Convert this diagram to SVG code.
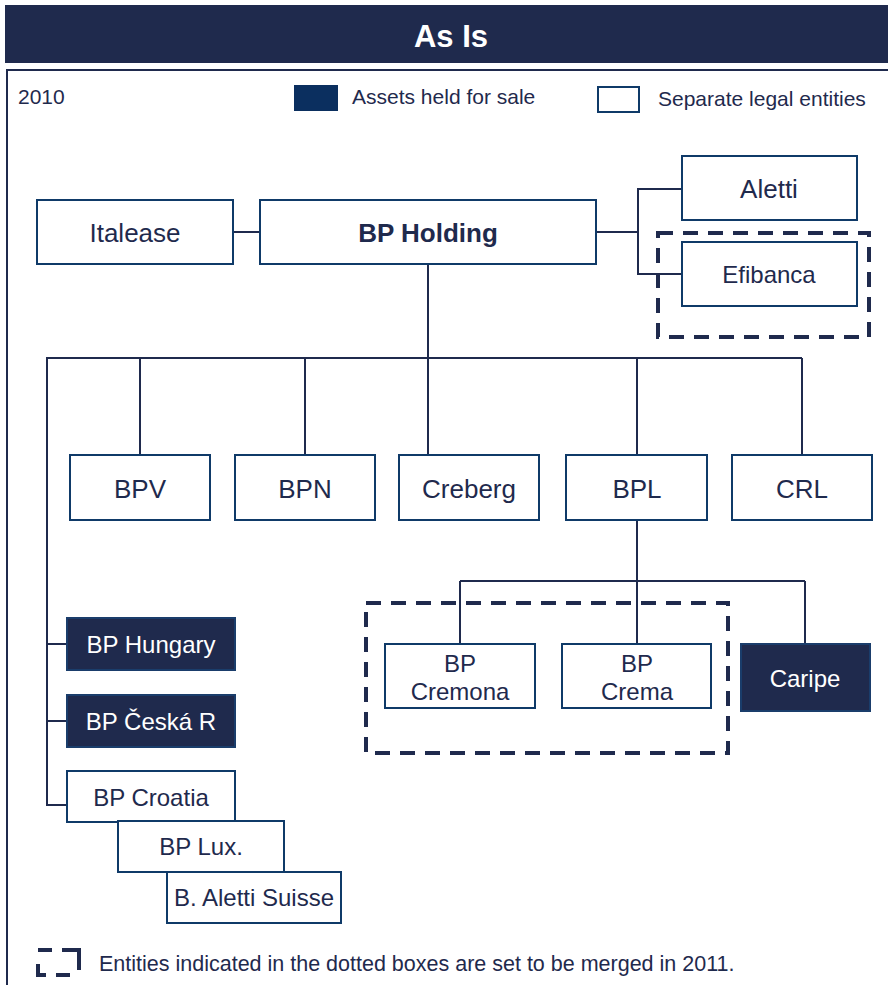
<svg xmlns="http://www.w3.org/2000/svg" width="888" height="985" viewBox="0 0 888 985">
<style>
text{font-family:"Liberation Sans",Arial,sans-serif;fill:#1f2a4d}
.box{fill:#ffffff;stroke:#0f3a68;stroke-width:2}
.dark{fill:#1f2a4d;stroke:#1a3d6b;stroke-width:2}
.lbl{font-size:24px;text-anchor:middle}
.big{font-size:26px;text-anchor:middle}
.wt{fill:#ffffff}
.ln{fill:none;stroke:#1f2a4d;stroke-width:2}
.dash{fill:none;stroke:#1f2a4d;stroke-width:4;stroke-dasharray:15 10}
</style>
<rect x="0" y="0" width="888" height="985" fill="#ffffff"/>
<g id="title">
<rect x="5" y="5" width="883" height="58" fill="#1f2a4d"/>
<text x="451" y="47" font-size="31" font-weight="bold" text-anchor="middle" class="wt" style="fill:#fff">As Is</text>
</g>
<g id="frame">
<line x1="6" y1="70" x2="888" y2="70" stroke="#1f2a4d" stroke-width="2"/>
<line x1="7" y1="69" x2="7" y2="985" stroke="#1f2a4d" stroke-width="2"/>
</g>
<g id="legend">
<text x="18" y="104" font-size="21">2010</text>
<rect x="294" y="85" width="44" height="26" fill="#0b2f5f"/>
<text x="352" y="104" font-size="21">Assets held for sale</text>
<rect x="598" y="87" width="41" height="25" class="box"/>
<text x="658" y="106" font-size="21">Separate legal entities</text>
</g>
<g id="connectors">
<line class="ln" x1="233" y1="232" x2="260" y2="232"/>
<polyline class="ln" points="596,232 637,232"/>
<polyline class="ln" points="682,189 638,189 638,274 682,274"/>
<line class="ln" x1="428" y1="264" x2="428" y2="358"/>
<line class="ln" x1="47" y1="358" x2="802" y2="358"/>
<line class="ln" x1="140" y1="358" x2="140" y2="455"/>
<line class="ln" x1="305" y1="358" x2="305" y2="455"/>
<line class="ln" x1="428" y1="358" x2="428" y2="455"/>
<line class="ln" x1="637" y1="358" x2="637" y2="455"/>
<line class="ln" x1="802" y1="358" x2="802" y2="455"/>
<line class="ln" x1="637" y1="520" x2="637" y2="644"/>
<line class="ln" x1="460" y1="581" x2="805" y2="581"/>
<line class="ln" x1="460" y1="581" x2="460" y2="644"/>
<line class="ln" x1="805" y1="581" x2="805" y2="644"/>
<polyline class="ln" points="47,357 47,805 67,805"/>
<line class="ln" x1="47" y1="644" x2="67" y2="644"/>
<line class="ln" x1="47" y1="721" x2="67" y2="721"/>
</g>
<g id="merge-groups">
<rect class="dash" x="658" y="233" width="211" height="104"/>
<rect class="dash" x="366" y="603" width="362" height="150"/>
</g>
<g id="node-italease"><rect class="box" x="37" y="200" width="196" height="64"/><text class="big" x="135" y="242">Italease</text></g>
<g id="node-bpholding"><rect class="box" x="260" y="200" width="336" height="64"/><text class="big" x="428" y="242" font-weight="bold">BP Holding</text></g>
<g id="node-aletti"><rect class="box" x="682" y="156" width="175" height="64"/><text class="big" x="769" y="198">Aletti</text></g>
<g id="node-efibanca"><rect class="box" x="682" y="242" width="175" height="64"/><text class="lbl" x="769" y="283">Efibanca</text></g>
<g id="node-bpv"><rect class="box" x="70" y="455" width="140" height="65"/><text class="big" x="140" y="498">BPV</text></g>
<g id="node-bpn"><rect class="box" x="235" y="455" width="140" height="65"/><text class="big" x="305" y="498">BPN</text></g>
<g id="node-creberg"><rect class="box" x="399" y="455" width="140" height="65"/><text class="big" x="469" y="498">Creberg</text></g>
<g id="node-bpl"><rect class="box" x="566" y="455" width="141" height="65"/><text class="big" x="637" y="498">BPL</text></g>
<g id="node-crl"><rect class="box" x="732" y="455" width="140" height="65"/><text class="big" x="802" y="498">CRL</text></g>
<g id="node-bpcremona"><rect class="box" x="385" y="644" width="150" height="64"/><text class="lbl" x="460" y="672">BP</text><text class="lbl" x="460" y="700">Cremona</text></g>
<g id="node-bpcrema"><rect class="box" x="562" y="644" width="149" height="64"/><text class="lbl" x="637" y="672">BP</text><text class="lbl" x="637" y="700">Crema</text></g>
<g id="node-caripe"><rect class="dark" x="741" y="644" width="129" height="67"/><text class="lbl" x="805" y="687" style="fill:#fff">Caripe</text></g>
<g id="node-bphungary"><rect class="dark" x="67" y="618" width="168" height="52"/><text class="lbl" x="151" y="653" style="fill:#fff">BP Hungary</text></g>
<g id="node-bpceska"><rect class="dark" x="67" y="695" width="168" height="52"/><text class="lbl" x="151" y="730" style="fill:#fff">BP Česká R</text></g>
<g id="node-bpcroatia"><rect class="box" x="67" y="771" width="168" height="51"/><text class="lbl" x="151" y="806">BP Croatia</text></g>
<g id="node-bplux"><rect class="box" x="118" y="821" width="166" height="51"/><text class="lbl" x="201" y="855">BP Lux.</text></g>
<g id="node-balettisuisse"><rect class="box" x="167" y="872" width="174" height="51"/><text class="lbl" x="254" y="906">B. Aletti Suisse</text></g>
<g id="footnote">
<polyline fill="none" stroke="#1f2a4d" stroke-width="4" points="38,964 38,975 46,975"/>
<line x1="56" y1="975" x2="70" y2="975" stroke="#1f2a4d" stroke-width="4"/>
<line x1="38" y1="950" x2="52" y2="950" stroke="#1f2a4d" stroke-width="4"/>
<polyline fill="none" stroke="#1f2a4d" stroke-width="4" points="62,950 79,950 79,970"/>
<text x="99" y="971" font-size="21.5">Entities indicated in the dotted boxes are set to be merged in 2011.</text>
</g>
</svg>
